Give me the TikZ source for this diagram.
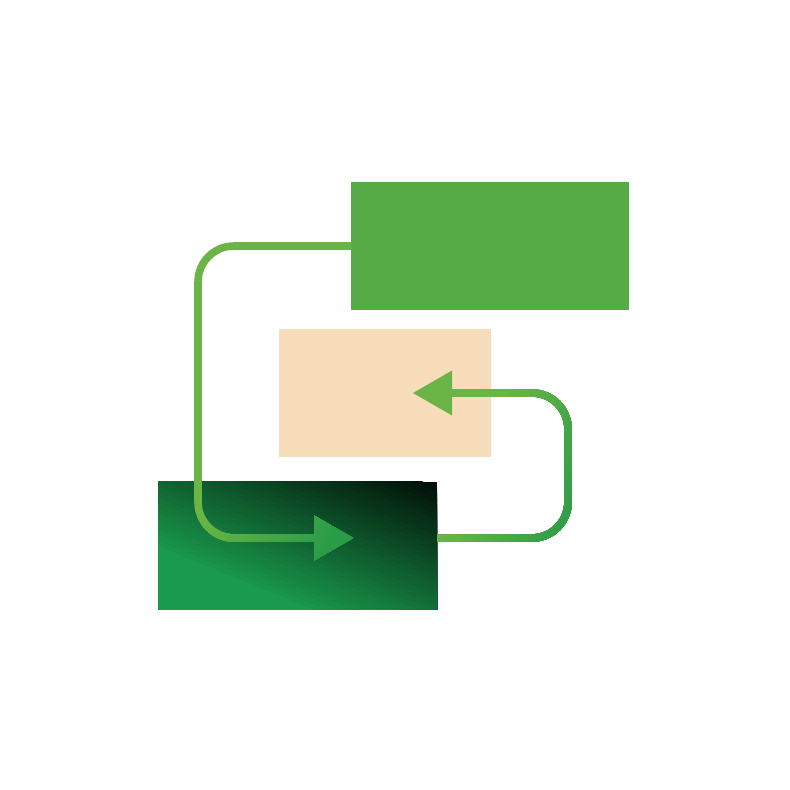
\documentclass[tikz,border=0pt]{standalone}
\usetikzlibrary{calc}
\definecolor{topgreen}{RGB}{87,171,71}
\definecolor{peach}{RGB}{248,221,187}
\definecolor{linelight}{RGB}{106,181,70}
\definecolor{linedark}{RGB}{42,156,72}
\definecolor{boxdark}{RGB}{1,16,8}
\definecolor{boxbright}{RGB}{26,154,76}
\tikzset{
  box/.style={draw=none, inner sep=0pt, outer sep=0pt, minimum height=128pt},
  conn/.style={line width=7.6pt, rounded corners=36pt},
}
\newcommand{\connone}[1]{%
  \draw[conn, draw=#1] (top.west) -- (c1a) -- (c1b) -- (e1);
  \fill[#1] (tip1) -- ++(-39,22.5) -- ++(0,-45) -- cycle;}
\newcommand{\conntwo}[1]{%
  \draw[conn, draw=#1] (s2) -- (c2a) -- (c2b) -- (e2);
  \fill[#1] (tip2) -- ++(39,22.5) -- ++(0,-45) -- cycle;}
\begin{document}
\begin{tikzpicture}[x=1pt,y=1pt]
\useasboundingbox (0,0) rectangle (790,790);
% boxes
\node[box, fill=topgreen, minimum width=278pt] (top) at (490,544) {};
\node[box, fill=peach, minimum width=212pt] (peach) at (385,397) {};
\node[box, fill=boxbright!60!boxdark, minimum width=279pt] (dark) at (297.5,244) {};
\begin{scope}
  \clip (dark.south west) rectangle (dark.north east);
  \fill[boxdark] (dark.south west) rectangle (dark.north east);
  \foreach \k in {1,...,33} {
    \pgfmathtruncatemacro{\p}{\k*100/33}
    \pgfmathsetmacro{\a}{\k*5}
    \fill[boxbright!\p!boxdark, shift={(437,308)}, rotate=-112.3]
      (\a,-1500) -- (1500,-1500) -- (1500,1500) -- (\a,1500) -- cycle;
  }
\end{scope}
% connector waypoints
\coordinate (c1a) at (198,544);
\coordinate (c1b) at (198,252);
\coordinate (tip1) at (353,252);
\coordinate (e1) at (323,252);
\coordinate (s2) at (dark.east |- tip1);
\coordinate (c2a) at (568,252);
\coordinate (c2b) at (568,397);
\coordinate (tip2) at (413,397);
\coordinate (e2) at (443,397);
% connector 1 with gradient
\foreach \k in {0,...,24} {
  \pgfmathtruncatemacro{\p}{\k*100/24}
  \pgfmathsetmacro{\a}{\k*124/24}
  \begin{scope}
    \ifnum\k>0
      \clip[shift={(187,252)}, rotate=-29.7]
        (\a,-1500) -- (1500,-1500) -- (1500,1500) -- (\a,1500) -- cycle;
    \fi
    \connone{linedark!\p!linelight}
  \end{scope}
}
% connector 2 with gradient
\foreach \k in {0,...,24} {
  \pgfmathtruncatemacro{\p}{\k*100/24}
  \pgfmathsetmacro{\a}{\k*120/24}
  \begin{scope}
    \ifnum\k>0
      \clip[shift={(437,252)}, rotate=-24.5]
        (\a,-1500) -- (1500,-1500) -- (1500,1500) -- (\a,1500) -- cycle;
    \fi
    \conntwo{linedark!\p!linelight}
  \end{scope}
}
\end{tikzpicture}
\end{document}
